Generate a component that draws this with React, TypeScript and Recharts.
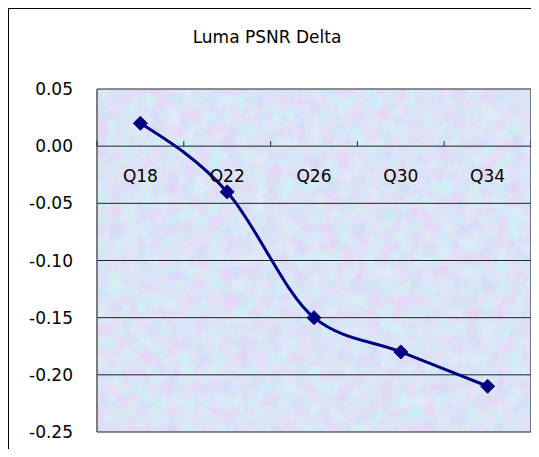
import { LineChart, Line, XAxis, YAxis, CartesianGrid } from "recharts";

const categories = ["Q18", "Q22", "Q26", "Q30", "Q34"];
const lumaDelta = [0.02, -0.04, -0.15, -0.18, -0.21];
const yTicks = [0.05, 0, -0.05, -0.1, -0.15, -0.2, -0.25];

const Y_MIN = -0.25;
const Y_MAX = 0.05;
const PLOT_H = 343;
const BAND = 434 / categories.length;

const data = categories.map((q, i) => ({ q, delta: lumaDelta[i] }));

const font = "'DejaVu Sans', sans-serif";

// category labels sit under the zero line, not at the bottom of the plot
function CategoryTick(props: any) {
  const { x, y, payload, index } = props;
  const zeroY = y - (PLOT_H * (0 - Y_MIN)) / (Y_MAX - Y_MIN);
  const last = index === categories.length - 1;
  return (
    <g>
      <line x1={x - BAND / 2} x2={x - BAND / 2} y1={zeroY} y2={zeroY - 5} stroke="#222" />
      {last && <line x1={x + BAND / 2} x2={x + BAND / 2} y1={zeroY} y2={zeroY - 5} stroke="#222" />}
      <text x={x} y={zeroY + 30} dy="0.35em" textAnchor="middle" fontSize={17} fontFamily={font} fill="#000">
        {payload.value}
      </text>
    </g>
  );
}

function Diamond(props: any) {
  const { cx, cy } = props;
  if (cx == null || cy == null) return null;
  const r = 7;
  return (
    <polygon
      points={`${cx},${cy - r} ${cx + r},${cy} ${cx},${cy + r} ${cx - r},${cy}`}
      fill="#000080"
      stroke="#000080"
    />
  );
}

export default function App() {
  return (
    <div style={{ width: 531, height: 449, overflow: "hidden", marginBottom: -8 }}>
      <div style={{ position: "relative", width: 560, height: 480, border: "1px solid #000", background: "#fff" }}>
        <div
          style={{
            position: "absolute",
            left: 0,
            top: 18,
            width: 516,
            textAlign: "center",
            fontFamily: font,
            fontSize: 17,
            lineHeight: "20px",
          }}
        >
          Luma PSNR Delta
        </div>
        <LineChart width={540} height={460} data={data} margin={{ top: 80, right: 18, bottom: 7, left: 0 }}>
          <defs>
            <filter id="mottle" filterUnits="userSpaceOnUse" x={0} y={0} width={600} height={500}>
              <feTurbulence type="fractalNoise" baseFrequency="0.07" numOctaves={3} seed={7} />
              <feColorMatrix
                type="matrix"
                values="0.3 -0.1 0 0 0.61  -0.1 0.3 0 0 0.67  0 0 0.1 0 0.87  0 0 0 0 1"
              />
            </filter>
            <pattern id="paper" patternUnits="userSpaceOnUse" x={0} y={0} width={600} height={500}>
              <rect x={0} y={0} width={600} height={500} filter="url(#mottle)" />
            </pattern>
          </defs>
          <CartesianGrid vertical={false} stroke="#222" strokeOpacity={1} fill="url(#paper)" fillOpacity={1} />
          {/* left and right plot-area border */}
          <CartesianGrid
            horizontal={false}
            stroke="#555"
            strokeWidth={1.5}
            verticalCoordinatesGenerator={({ offset }: any) => [offset.left, offset.left + offset.width]}
          />
          <XAxis
            dataKey="q"
            height={30}
            axisLine={false}
            tickLine={false}
            tickSize={0}
            tickMargin={0}
            interval={0}
            padding={{ left: BAND / 2, right: BAND / 2 }}
            tick={<CategoryTick />}
          />
          <YAxis
            width={88}
            domain={[Y_MIN, Y_MAX]}
            ticks={yTicks}
            axisLine={false}
            tickLine={false}
            tickSize={0}
            tickMargin={24}
            tickFormatter={(v: number) => v.toFixed(2)}
            tick={{ fontSize: 17, fontFamily: font, fill: "#000" }}
          />
          <Line
            type="monotone"
            dataKey="delta"
            stroke="#000080"
            strokeWidth={3}
            dot={<Diamond />}
            activeDot={false}
            isAnimationActive={false}
          />
        </LineChart>
      </div>
    </div>
  );
}
